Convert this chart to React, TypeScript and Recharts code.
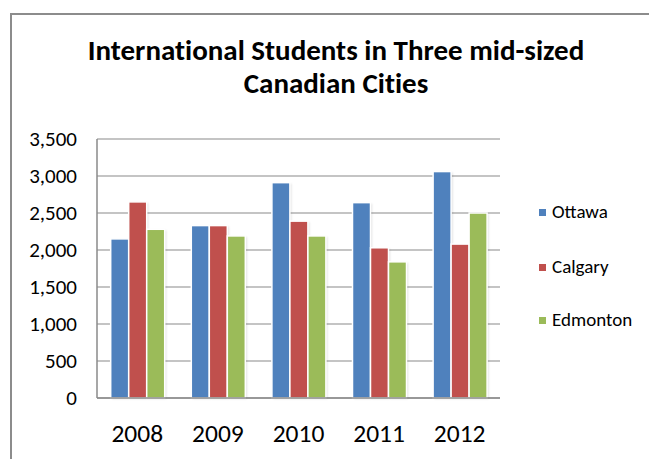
import React from 'react';
import { BarChart, Bar, XAxis, YAxis, CartesianGrid, Legend } from 'recharts';

const years = ['2008', '2009', '2010', '2011', '2012'];
const ottawa = [2150, 2330, 2910, 2640, 3060];
const calgary = [2650, 2330, 2390, 2030, 2080];
const edmonton = [2280, 2190, 2190, 1840, 2500];
const yTicks = [0, 500, 1000, 1500, 2000, 2500, 3000, 3500];
const seriesNames = ['Ottawa', 'Calgary', 'Edmonton'];
const colors = ['#4f81bd', '#c0504d', '#9bbb59'];

const data = years.map((y, i) => ({
  year: y,
  Ottawa: ottawa[i],
  Calgary: calgary[i],
  Edmonton: edmonton[i],
}));

const FONT = 'Carlito, Lato, sans-serif';

const fmt = (v: number) => v.toLocaleString('en-US');

const YTick = (props: any) => {
  const { x, y, payload } = props;
  return (
    <text x={x} y={y} dy={7} textAnchor="end" fontFamily={FONT} fontSize={21} fill="#000">
      {fmt(payload.value)}
    </text>
  );
};

const XTick = (props: any) => {
  const { x, y, payload } = props;
  return (
    <text x={x} y={y} dy={18} textAnchor="middle" fontFamily={FONT} fontSize={25.5} fill="#000">
      {payload.value}
    </text>
  );
};

const legendCenters = [212, 267, 320];

const LegendContent = () => (
  <div style={{ position: 'relative', width: 110, height: 140, fontFamily: FONT }}>
    {seriesNames.map((n, i) => (
      <div
        key={n}
        style={{
          position: 'absolute',
          left: 0,
          top: legendCenters[i] - 200 - 12,
          height: 24,
          display: 'flex',
          alignItems: 'center',
          whiteSpace: 'nowrap',
        }}
      >
        <div style={{ width: 7, height: 7, background: colors[i], marginRight: 6 }} />
        <span style={{ fontSize: 19, color: '#000', lineHeight: '24px' }}>{n}</span>
      </div>
    ))}
  </div>
);

const ShadowBar = (props: any) => {
  const { x, y, width, height, fill } = props;
  if (height <= 0) return null;
  return (
    <g>
      <rect x={x + 1.5} y={y + 1} width={width} height={height} fill="#000" opacity={0.12} filter="url(#blurShadow)" />
      <rect x={x} y={y} width={width} height={height} fill={fill} stroke="#fff" strokeWidth={1.5} />
    </g>
  );
};

export default function App() {
  return (
    <div style={{ position: 'absolute', left: 0, top: 0, width: 649, height: 459, background: '#fff', overflow: 'hidden' }}>
      <div
        style={{
          position: 'absolute',
          left: 10,
          top: 13,
          width: 660,
          height: 470,
          borderTop: '2px solid #8c8c8c',
          borderLeft: '2px solid #8c8c8c',
        }}
      />
      <div
        style={{
          position: 'absolute',
          left: 0,
          top: 34,
          width: 672,
          textAlign: 'center',
          fontFamily: FONT,
          fontWeight: 700,
          fontSize: 29,
          lineHeight: '33px',
          color: '#000',
          fontVariantLigatures: 'none',
          fontFeatureSettings: '"liga" 0, "clig" 0',
        }}
      >
        International Students in Three mid-sized
        <br />
        Canadian Cities
      </div>
      <div style={{ position: 'absolute', left: 0, top: 0 }}>
        <BarChart
          width={649}
          height={459}
          data={data}
          margin={{ top: 139, right: 149, bottom: 21, left: 0 }}
          barCategoryGap="17%"
          barGap={0}
        >
          <defs>
            <filter id="blurShadow" x="-20%" y="-5%" width="140%" height="110%">
              <feGaussianBlur stdDeviation="1.2" />
            </filter>
          </defs>
          <CartesianGrid vertical={false} stroke="#8a8a8a" strokeWidth={1.2} />
          <XAxis
            dataKey="year"
            height={40}
            tickLine={false}
            axisLine={{ stroke: '#8a8a8a', strokeWidth: 1.5 }}
            tickSize={0}
            tickMargin={26}
            tick={<XTick />}
            interval={0}
          />
          <YAxis
            width={97}
            domain={[0, 3500]}
            ticks={yTicks}
            tickLine={false}
            axisLine={{ stroke: '#8a8a8a', strokeWidth: 1.5 }}
            tickSize={0}
            tickMargin={20}
            tick={<YTick />}
            interval={0}
          />
          <Legend
            layout="vertical"
            verticalAlign="middle"
            align="center"
            content={<LegendContent />}
            wrapperStyle={{ position: 'absolute', left: 539, top: 200, width: 110, height: 140 }}
          />
          {seriesNames.map((n, i) => (
            <Bar key={n} dataKey={n} fill={colors[i]} isAnimationActive={false} shape={<ShadowBar />} />
          ))}
        </BarChart>
      </div>
    </div>
  );
}
